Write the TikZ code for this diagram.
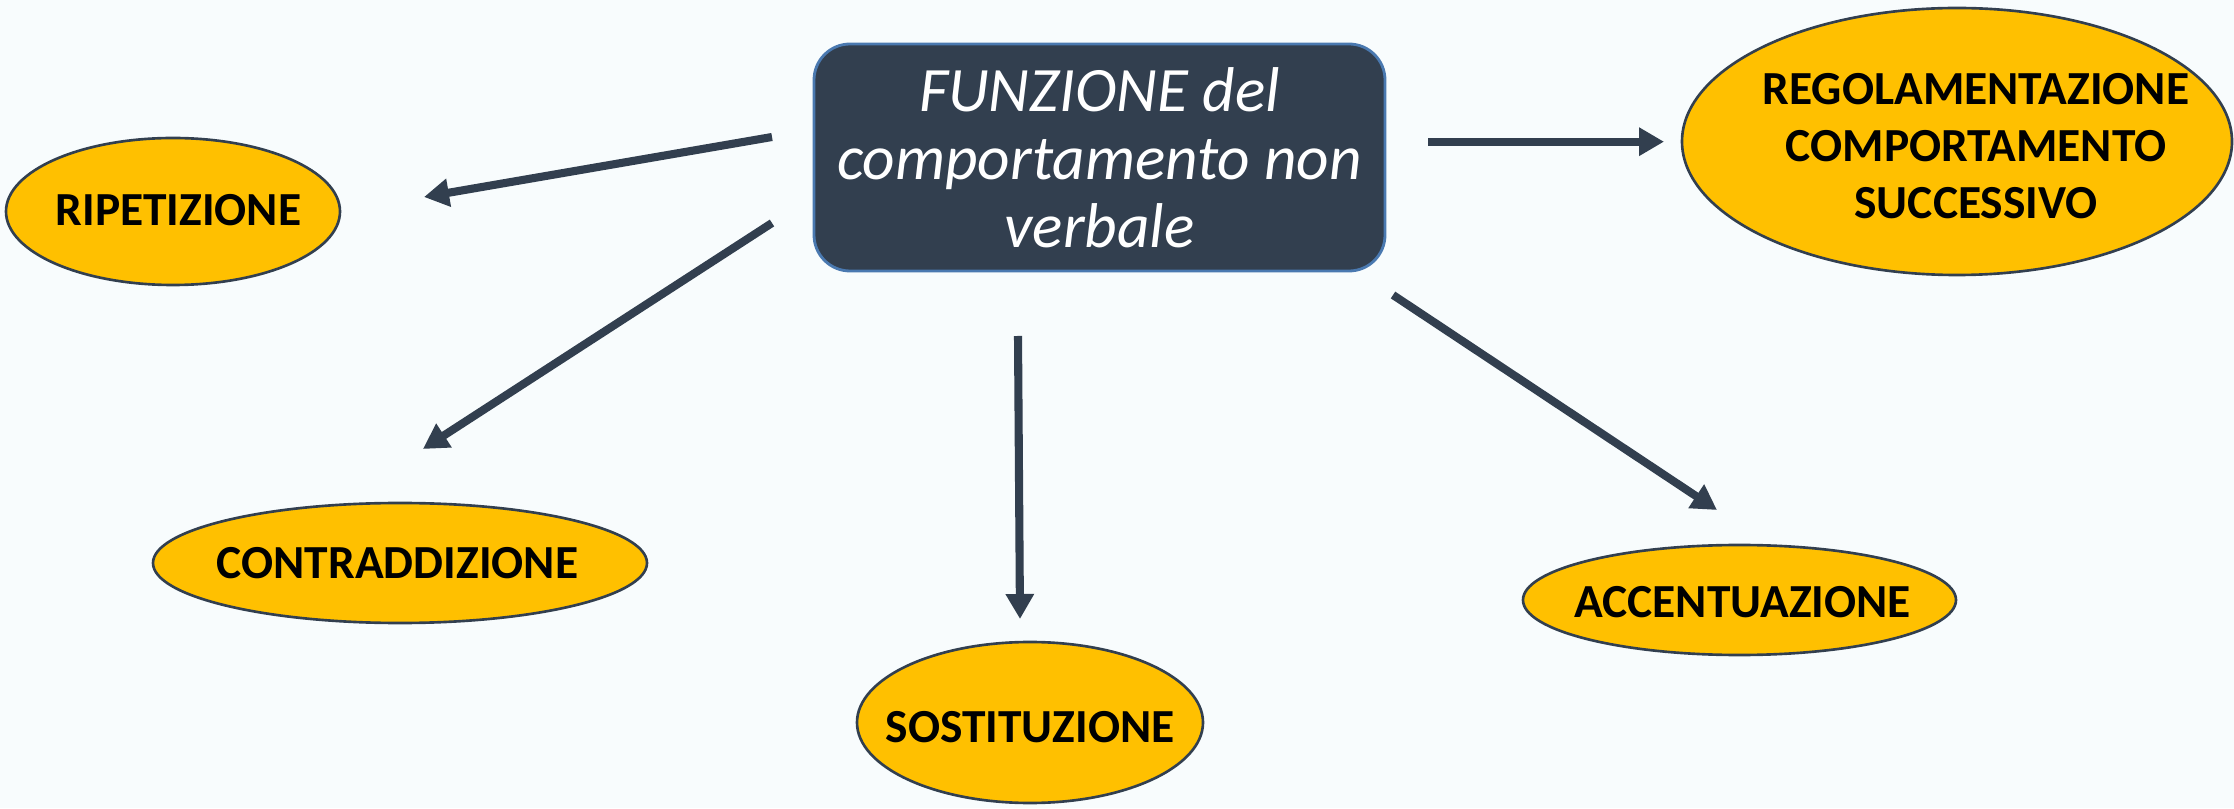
\documentclass[tikz,border=0pt]{standalone}
\usepackage{fontspec}
\setmainfont{Carlito}
\usetikzlibrary{shapes.geometric,arrows.meta,calc}
\definecolor{bgcol}{RGB}{248,252,253}
\definecolor{slate}{RGB}{50,63,79}
\definecolor{boxline}{RGB}{74,121,176}
\definecolor{gold}{RGB}{255,192,0}

\begin{document}
\begin{tikzpicture}[
  elli/.style={ellipse,draw=slate,line width=0.75pt,fill=gold,inner sep=0pt},
  lbl/.style={font=\fontsize{13.5}{16.3}\selectfont\bfseries,inner sep=0pt},
  arr/.style={draw=slate,line width=2.3pt,-{Triangle[length=0.25cm,width=0.27cm]}}
]
\useasboundingbox[fill=bgcol] (0,0) rectangle (22.34,8.08);

%central box
\node[rectangle,rounded corners=0.36cm,fill=slate,draw=boxline,line width=0.8pt,
  minimum width=5.71cm,minimum height=2.27cm,text=white,align=center,
  font=\fontsize{18}{19.3}\selectfont\itshape] (fun) at (10.995,6.505)
  {FUNZIONE del\\comportamento non\\verbale};

%ellipses
\node[elli,minimum width=3.34cm,minimum height=1.47cm,
  label={[lbl,xshift=0.055cm,yshift=0.015cm]center:RIPETIZIONE}] (rip) at (1.73,5.965) {};
\node[elli,minimum width=4.94cm,minimum height=1.2cm,
  label={[lbl,xshift=-0.025cm]center:CONTRADDIZIONE}] (con) at (4.00,2.45) {};
\node[elli,minimum width=3.46cm,minimum height=1.61cm,
  label={[lbl,yshift=-0.045cm]center:SOSTITUZIONE}] (sos) at (10.30,0.855) {};
\node[elli,minimum width=4.33cm,minimum height=1.1cm,
  label={[lbl,xshift=0.03cm,yshift=-0.02cm]center:ACCENTUAZIONE}] (acc) at (17.395,2.08) {};
\node[elli,minimum width=5.5cm,minimum height=2.67cm,
  label={[lbl,align=center,xshift=0.19cm,yshift=-0.045cm]center:{REGOLAMENTAZIONE\\COMPORTAMENTO\\SUCCESSIVO}}] (reg) at (19.57,6.665) {};

%arrows
\coordinate (s1) at (7.72,6.71);   \coordinate (e1) at (4.24,6.11);
\coordinate (s2) at (7.72,5.85);   \coordinate (e2) at (4.23,3.59);
\coordinate (s3) at (10.18,4.72);  \coordinate (e3) at (10.20,1.89);
\coordinate (s4) at (14.28,6.663); \coordinate (e4) at (16.64,6.663);
\coordinate (s5) at (13.93,5.13);  \coordinate (e5) at (17.17,2.98);

\draw[arr] (s1) -- (e1);
\draw[arr] (s2) -- (e2);
\draw[arr] (s3) -- (e3);
\draw[arr] (s4) -- (e4);
\draw[arr] (s5) -- (e5);

\end{tikzpicture}
\end{document}
